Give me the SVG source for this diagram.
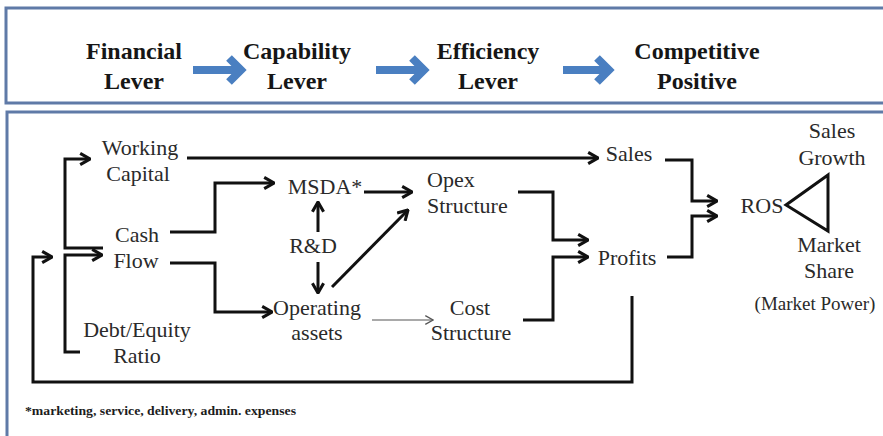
<svg xmlns="http://www.w3.org/2000/svg" width="883" height="436" viewBox="0 0 883 436">
  <style>
    .frame { fill: none; stroke: #5f7aa7; stroke-width: 3; }
    .blue { fill: none; stroke: #4a7fc1; stroke-width: 8; }
    .wire { fill: none; stroke: #111; stroke-width: 3; stroke-linejoin: miter; }
    .thin { fill: none; stroke: #555; stroke-width: 1.2; }
  </style>
  <defs>
    <marker id="ah" viewBox="0 0 10 10" refX="9" refY="5" markerWidth="14" markerHeight="14" markerUnits="userSpaceOnUse" orient="auto">
      <path d="M2,1 L9,5 L2,9" fill="none" stroke="#111" stroke-width="2.2"/>
    </marker>
    <marker id="ahThin" viewBox="0 0 10 10" refX="9" refY="5" markerWidth="11" markerHeight="11" markerUnits="userSpaceOnUse" orient="auto">
      <path d="M2,1 L9,5 L2,9" fill="none" stroke="#555" stroke-width="1.1"/>
    </marker>
  </defs>

  <rect width="883" height="436" fill="#ffffff"/>

  <!-- panel frames (open to the right and bottom) -->
  <path class="frame" d="M890,8 H6 V103 H890"/>
  <path class="frame" d="M890,112 H7 V440"/>

  <!-- lever sequence -->
  <g id="lever-financial" fill="#161616" text-anchor="middle">
    <text x="134" y="59" style="font-family:'Liberation Serif',serif;font-weight:bold;font-size:24px">Financial</text>
    <text x="134" y="89" style="font-family:'Liberation Serif',serif;font-weight:bold;font-size:24px">Lever</text>
  </g>
  <g id="lever-capability" fill="#161616" text-anchor="middle">
    <text x="297" y="59" style="font-family:'Liberation Serif',serif;font-weight:bold;font-size:24px">Capability</text>
    <text x="297" y="89" style="font-family:'Liberation Serif',serif;font-weight:bold;font-size:24px">Lever</text>
  </g>
  <g id="lever-efficiency" fill="#161616" text-anchor="middle">
    <text x="488" y="59" style="font-family:'Liberation Serif',serif;font-weight:bold;font-size:24px">Efficiency</text>
    <text x="488" y="89" style="font-family:'Liberation Serif',serif;font-weight:bold;font-size:24px">Lever</text>
  </g>
  <g id="lever-competitive" fill="#161616" text-anchor="middle">
    <text x="697" y="59" style="font-family:'Liberation Serif',serif;font-weight:bold;font-size:24px">Competitive</text>
    <text x="697" y="89" style="font-family:'Liberation Serif',serif;font-weight:bold;font-size:24px">Positive</text>
  </g>
  <g id="lever-arrows">
    <path class="blue" d="M193,70 H238 M229,58 L241,70 L229,82"/>
    <path class="blue" d="M376,70 H421 M412,58 L424,70 L412,82"/>
    <path class="blue" d="M563,70 H606 M597,58 L609,70 L597,82"/>
  </g>

  <!-- nodes -->
  <g id="working-capital" fill="#2a2a2a" text-anchor="middle">
    <text x="140" y="155" style="font-family:'Liberation Serif',serif;font-size:22px">Working</text>
    <text x="138" y="181" style="font-family:'Liberation Serif',serif;font-size:22px">Capital</text>
  </g>
  <g id="cash-flow" fill="#2a2a2a" text-anchor="middle">
    <text x="137" y="242" style="font-family:'Liberation Serif',serif;font-size:22px">Cash</text>
    <text x="136" y="268" style="font-family:'Liberation Serif',serif;font-size:22px">Flow</text>
  </g>
  <g id="debt-equity" fill="#2a2a2a" text-anchor="middle">
    <text x="137" y="337" style="font-family:'Liberation Serif',serif;font-size:22px">Debt/Equity</text>
    <text x="137" y="363" style="font-family:'Liberation Serif',serif;font-size:22px">Ratio</text>
  </g>
  <g id="msda" fill="#2a2a2a" text-anchor="middle">
    <text x="325" y="194" style="font-family:'Liberation Serif',serif;font-size:22px">MSDA*</text>
  </g>
  <g id="rnd" fill="#2a2a2a" text-anchor="middle">
    <text x="313" y="253" style="font-family:'Liberation Serif',serif;font-size:22px">R&amp;D</text>
  </g>
  <g id="operating-assets" fill="#2a2a2a" text-anchor="middle">
    <text x="317" y="315" style="font-family:'Liberation Serif',serif;font-size:22px">Operating</text>
    <text x="317" y="340" style="font-family:'Liberation Serif',serif;font-size:22px">assets</text>
  </g>
  <g id="opex-structure" fill="#2a2a2a">
    <text x="427" y="187" style="font-family:'Liberation Serif',serif;font-size:22px">Opex</text>
    <text x="427" y="213" style="font-family:'Liberation Serif',serif;font-size:22px">Structure</text>
  </g>
  <g id="cost-structure" fill="#2a2a2a" text-anchor="middle">
    <text x="470" y="315" style="font-family:'Liberation Serif',serif;font-size:22px">Cost</text>
    <text x="471" y="340" style="font-family:'Liberation Serif',serif;font-size:22px">Structure</text>
  </g>
  <g id="sales" fill="#2a2a2a" text-anchor="middle">
    <text x="629" y="161" style="font-family:'Liberation Serif',serif;font-size:22px">Sales</text>
  </g>
  <g id="profits" fill="#2a2a2a" text-anchor="middle">
    <text x="627" y="265" style="font-family:'Liberation Serif',serif;font-size:22px">Profits</text>
  </g>
  <g id="ros" fill="#2a2a2a" text-anchor="middle">
    <text x="762" y="213" style="font-family:'Liberation Serif',serif;font-size:22px">ROS</text>
    <path class="wire" d="M828,175 L786,205 L828,231 Z"/>
  </g>
  <g id="sales-growth" fill="#2a2a2a" text-anchor="middle">
    <text x="832" y="138" style="font-family:'Liberation Serif',serif;font-size:22px">Sales</text>
    <text x="832" y="165" style="font-family:'Liberation Serif',serif;font-size:22px">Growth</text>
  </g>
  <g id="market-share" fill="#2a2a2a" text-anchor="middle">
    <text x="829" y="252" style="font-family:'Liberation Serif',serif;font-size:22px">Market</text>
    <text x="829" y="278" style="font-family:'Liberation Serif',serif;font-size:22px">Share</text>
    <text x="815" y="310" style="font-family:'Liberation Serif',serif;font-size:19px">(Market Power)</text>
  </g>

  <!-- connectors -->
  <g id="connectors">
    <path class="wire" d="M103,248 H65 V159 H90" marker-end="url(#ah)"/>
    <path class="wire" d="M80,352 H65 V255 H102" marker-end="url(#ah)"/>
    <path class="wire" d="M632,296 V382 H33 V257 H52" marker-end="url(#ah)"/>
    <path class="wire" d="M187,158 H598" marker-end="url(#ah)"/>
    <path class="wire" d="M170,232 H215 V183 H274" marker-end="url(#ah)"/>
    <path class="wire" d="M170,263 H215 V312 H272" marker-end="url(#ah)"/>
    <path class="wire" d="M318,232 V202" marker-end="url(#ah)"/>
    <path class="wire" d="M318,262 V293" marker-end="url(#ah)"/>
    <path class="wire" d="M332,287 L408,210" marker-end="url(#ah)"/>
    <path class="wire" d="M364,192 H412" marker-end="url(#ah)"/>
    <path class="thin" d="M372,320 H433" marker-end="url(#ahThin)"/>
    <path class="wire" d="M518,192 H553 V240 H588" marker-end="url(#ah)"/>
    <path class="wire" d="M523,320 H553 V257 H588" marker-end="url(#ah)"/>
    <path class="wire" d="M665,160 H692 V201 H717" marker-end="url(#ah)"/>
    <path class="wire" d="M667,257 H692 V216 H717" marker-end="url(#ah)"/>
  </g>

  <text x="25" y="415" fill="#1c1c1c" textLength="271" lengthAdjust="spacingAndGlyphs" style="font-family:'Liberation Serif',serif;font-weight:bold;font-size:13px">*marketing, service, delivery, admin. expenses</text>
</svg>
